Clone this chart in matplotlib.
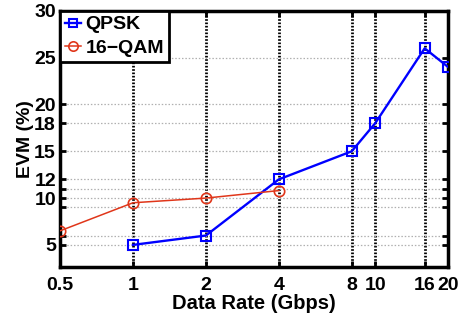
import matplotlib
matplotlib.use("Agg")
import matplotlib.pyplot as plt

plt.rcParams['font.family'] = ['Liberation Sans', 'DejaVu Sans']
plt.rcParams['font.weight'] = 'bold'

# EVM measurements vs data rate
qpsk_rate = [1, 2, 4, 8, 10, 16, 20]
qpsk_evm = [5.0, 6.0, 12.0, 15.0, 18.0, 26.0, 24.0]
qam16_rate = [0.5, 1, 2, 4]
qam16_evm = [6.5, 9.5, 10.0, 10.8]

xticks = [0.5, 1, 2, 4, 8, 10, 16, 20]
xlabels = ['0.5', '1', '2', '4', '8', '10', '16', '20']
yticks = [5, 6, 9, 10, 11, 12, 15, 18, 20, 25, 30]
ylabels = ['5', '', '', '10', '', '12', '15', '18', '20', '25', '30']

fig = plt.figure(figsize=(4.62, 3.20), dpi=100)
ax = fig.add_axes([0.13, 0.166, 0.84, 0.800])

ax.plot(qpsk_rate, qpsk_evm, color='#0000ff', lw=1.7, marker='s', ms=6.5,
        mfc='none', mew=1.5, label='QPSK', zorder=5)
ax.plot(qam16_rate, qam16_evm, color='#e0361a', lw=1.1, marker='o', ms=7.5,
        mfc='none', mew=1.2, label='16\u2212QAM', zorder=5)

ax.set_xscale('log')
ax.set_xlim(0.5, 20)
ax.set_ylim(2.65, 30)
ax.set_xticks(xticks)
ax.set_xticklabels(xlabels)
ax.minorticks_off()
ax.set_yticks(yticks)
ax.set_yticklabels(ylabels)

# vertical grid: heavy black dots, horizontal grid: light gray dots
for x in xticks:
    ax.axvline(x, color='black', lw=2.0, ls=(0, (0.6, 0.6)), zorder=1)
for y in yticks:
    ax.axhline(y, color='#b0b0b0', lw=0.9, ls=(0, (1.2, 1.5)), zorder=1)

ax.tick_params(axis='both', direction='in', length=4, width=2, top=True,
               right=True, labelsize=14)
ax.tick_params(axis='x', pad=7)
ax.tick_params(axis='y', pad=3)
for s in ax.spines.values():
    s.set_linewidth(2.5)

ax.set_xlabel('Data Rate (Gbps)', fontsize=14.5, fontweight='bold', labelpad=0)
ax.set_ylabel('EVM (%)', fontsize=14, fontweight='bold', labelpad=0)

leg = ax.legend(loc='upper left', fontsize=14, handlelength=0.85,
                handletextpad=0.2, borderaxespad=0, borderpad=0.25,
                labelspacing=0.3, fancybox=False, framealpha=1,
                edgecolor='black', markerscale=0.9)
leg.get_frame().set_linewidth(2)
for t in leg.get_texts():
    t.set_fontweight('bold')

fig.savefig('out.png', dpi=100)
